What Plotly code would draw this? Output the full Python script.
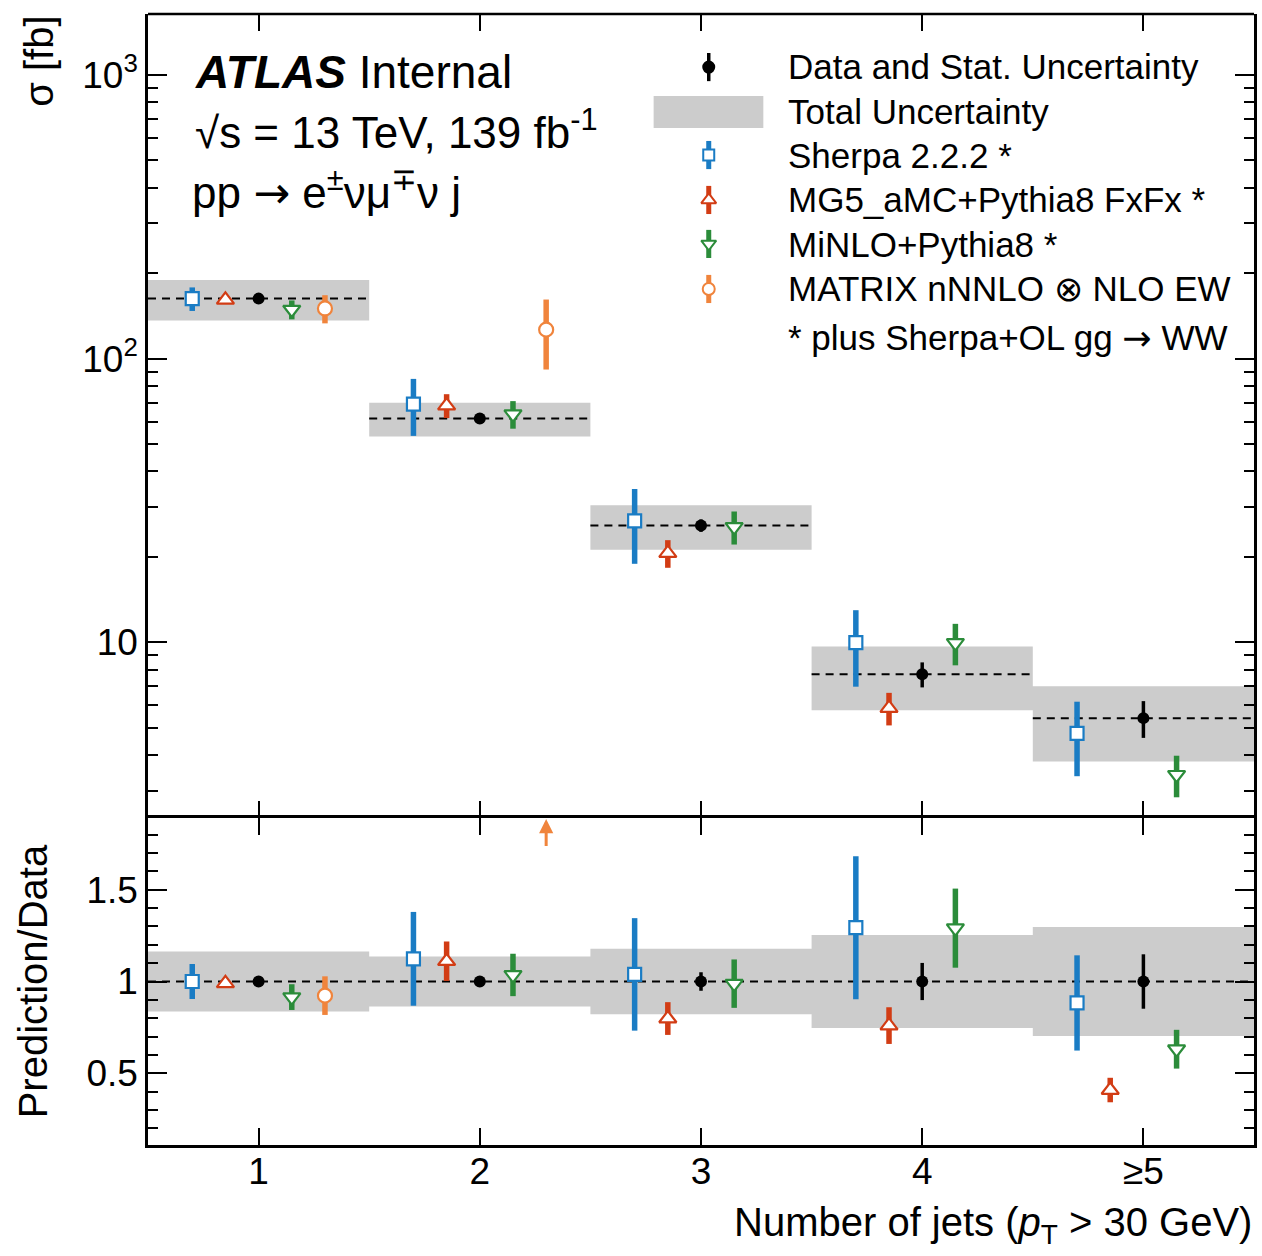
import plotly.graph_objects as go

# ---------------------------------------------------------------- data
njet_labels = ["1", "2", "3", "4", "≥5"]
njet_centers = [1, 2, 3, 4, 5]
bin_lo = [0.5, 1.5, 2.5, 3.5, 4.5]
bin_hi = [1.5, 2.5, 3.5, 4.5, 5.5]

# measured fiducial cross-section [fb]
data_xs = [162.7, 61.5, 25.8, 7.71, 5.40]
data_stat = [1.5, 0.9, 1.3, 0.78, 0.80]
data_total = [26.5, 8.4, 4.6, 1.95, 1.60]

# predictions [fb] and their uncertainties
sherpa_xs = [162.7, 69.1, 26.8, 9.97, 4.77]
sherpa_err = [15.5, 15.7, 7.9, 3.0, 1.40]
mg5_xs = [161.1, 68.3, 20.6, 5.86, 2.21]
mg5_err = [4.0, 6.6, 2.3, 0.77, 0.36]
minlo_xs = [148.9, 63.7, 25.5, 9.95, 3.41]
minlo_err = [11.4, 7.1, 3.4, 1.66, 0.57]
matrix_xs = [150.2, 126.5, None, None, None]
matrix_err = [17.1, 35.0, None, None, None]

# ---------------------------------------------------------------- style
FONT = "Liberation Sans, Arial, Helvetica, sans-serif"
ARROW = '<span style="font-family:DejaVu Sans">→</span>'
BAND = "#cccccc"
C_SHERPA = "#1a7cc4"
C_MG5 = "#d23c14"
C_MINLO = "#2b8c3a"
C_MATRIX = "#f0843c"

TOP_RANGE = (2.4, 1640.0)
RATIO_RANGE = (0.11, 1.89)
SPLIT = 0.2891

predictions = [
    ("Sherpa 2.2.2 *", sherpa_xs, sherpa_err, C_SHERPA, "square", -0.30, 13),
    ("MG5_aMC+Pythia8 FxFx *", mg5_xs, mg5_err, C_MG5, "triangle-up", -0.15, 15),
    ("MiNLO+Pythia8 *", minlo_xs, minlo_err, C_MINLO, "triangle-down", 0.15, 15),
    ("MATRIX nNNLO ⊗ NLO EW", matrix_xs, matrix_err, C_MATRIX, "circle", 0.30, 14),
]

fig = go.Figure()


def band_polygon(lo, hi, low, high):
    xs, ys = [], []
    for a, b, l, h in zip(lo, hi, low, high):
        xs += [a, b, b, a, a, None]
        ys += [l, l, h, h, l, None]
    return xs, ys


def open_marker(sym, size, col):
    return dict(symbol=sym, size=size, color="white", line=dict(color=col, width=2.2))


# ---------------------------------------------------------------- top panel
bx, by = band_polygon(bin_lo, bin_hi,
                      [d - e for d, e in zip(data_xs, data_total)],
                      [d + e for d, e in zip(data_xs, data_total)])
fig.add_trace(go.Scatter(x=bx, y=by, mode="lines", fill="toself", fillcolor=BAND,
                         line=dict(width=0, color=BAND), hoverinfo="skip",
                         showlegend=False, xaxis="x", yaxis="y"))

lx, ly = [], []
for a, b, d in zip(bin_lo, bin_hi, data_xs):
    lx += [a, b, None]
    ly += [d, d, None]
fig.add_trace(go.Scatter(x=lx, y=ly, mode="lines",
                         line=dict(color="black", width=2, dash="8px,6px"),
                         showlegend=False, xaxis="x", yaxis="y"))


def in_top(v):
    return v is not None and TOP_RANGE[0] <= v <= TOP_RANGE[1]


for name, xs_, err_, col, sym, off, size in predictions:
    yv = [v if in_top(v) else None for v in xs_]
    ev = [e if in_top(v) else None for v, e in zip(xs_, err_)]
    fig.add_trace(go.Scatter(
        x=[c + off for c in njet_centers], y=yv, mode="markers",
        marker=open_marker(sym, size, col),
        error_y=dict(type="data", array=ev, color=col, thickness=5.5, width=0),
        showlegend=False, xaxis="x", yaxis="y"))

fig.add_trace(go.Scatter(
    x=njet_centers, y=data_xs, mode="markers",
    marker=dict(symbol="circle", size=12, color="black"),
    error_y=dict(type="data", array=data_stat, color="black", thickness=3.5, width=0),
    showlegend=False, xaxis="x", yaxis="y"))

# ---------------------------------------------------------------- ratio panel
rel_tot = [e / d for d, e in zip(data_xs, data_total)]
rx, ry = [], []
for a, b, r in zip(bin_lo, bin_hi, rel_tot):
    rx += [a, b]
    ry += [1 + r, 1 + r]
for a, b, r in reversed(list(zip(bin_lo, bin_hi, rel_tot))):
    rx += [b, a]
    ry += [1 - r, 1 - r]
fig.add_trace(go.Scatter(x=rx, y=ry, mode="lines", fill="toself", fillcolor=BAND,
                         line=dict(width=0, color=BAND), hoverinfo="skip",
                         showlegend=False, xaxis="x2", yaxis="y2"))
fig.add_trace(go.Scatter(x=[bin_lo[0], bin_hi[-1]], y=[1, 1], mode="lines",
                         line=dict(color="black", width=2, dash="8px,6px"),
                         showlegend=False, xaxis="x2", yaxis="y2"))

arrows = []
for name, xs_, err_, col, sym, off, size in predictions:
    ratio, rerr = [], []
    for v, e, d, c in zip(xs_, err_, data_xs, njet_centers):
        if v is None:
            ratio.append(None)
            rerr.append(None)
            continue
        r = v / d
        if r > RATIO_RANGE[1]:
            arrows.append((c + off, col))
            ratio.append(None)
            rerr.append(None)
        else:
            ratio.append(r)
            rerr.append(e / d)
    fig.add_trace(go.Scatter(
        x=[c + off for c in njet_centers], y=ratio, mode="markers",
        marker=open_marker(sym, size, col),
        error_y=dict(type="data", array=rerr, color=col, thickness=5.5, width=0),
        showlegend=False, xaxis="x2", yaxis="y2"))

fig.add_trace(go.Scatter(
    x=njet_centers, y=[1.0] * len(data_xs), mode="markers",
    marker=dict(symbol="circle", size=12, color="black"),
    error_y=dict(type="data", array=[s / d for s, d in zip(data_stat, data_xs)],
                 color="black", thickness=3.5, width=0),
    showlegend=False, xaxis="x2", yaxis="y2"))

# points above the ratio range are marked with an upward arrow
annotations = []
for xa, col in arrows:
    annotations.append(dict(x=xa, y=RATIO_RANGE[1] - 0.005, ax=xa, ay=1.73,
                            xref="x2", yref="y2", axref="x2", ayref="y2",
                            showarrow=True, arrowhead=2, arrowsize=0.95,
                            arrowwidth=3, arrowcolor=col, text=""))

# ---------------------------------------------------------------- legend
leg_x = 0.507
leg_rows = [0.934, 0.8246, 0.7687, 0.714, 0.658]
leg_entries = [("black", "circle", 11, 3.5, "black")]
for name, xs_, err_, col, sym, off, size in predictions:
    leg_entries.append((col, sym, size - 2, 5, "white"))

text_rows_px = [67, 111, 155, 200, 244, 289, 338]
legend_texts = ["Data and Stat. Uncertainty", "Total Uncertainty"] + \
    [p[0] for p in predictions] + [f"* plus Sherpa+OL gg {ARROW} WW"]

for (col, sym, size, thick, fill), yy in zip(leg_entries, leg_rows):
    fig.add_trace(go.Scatter(
        x=[leg_x], y=[yy], mode="markers",
        marker=dict(symbol=sym, size=size, color=fill, line=dict(color=col, width=2)),
        error_y=dict(type="data", array=[0.0175], color=col, thickness=thick, width=0),
        showlegend=False, hoverinfo="skip", xaxis="x3", yaxis="y3"))

for txt, py in zip(legend_texts, text_rows_px):
    annotations.append(dict(text=txt, x=(788 - 148) / 1109, y=(1145 - py) / 1131,
                            xref="paper", yref="paper", xanchor="left", yanchor="middle",
                            showarrow=False, font=dict(family=FONT, size=35, color="black")))

shapes = [
    dict(type="rect", xref="paper", yref="paper",
         x0=(655 - 148) / 1109, x1=(765 - 148) / 1109,
         y0=(1145 - 128) / 1131, y1=(1145 - 96) / 1131,
         fillcolor=BAND, line=dict(width=0), layer="above"),
    # upper frame edge of the cross-section panel
    dict(type="line", xref="paper", yref="paper", x0=0, x1=1, y0=1, y1=1,
         line=dict(color="black", width=2.5), layer="above"),
]

# ---------------------------------------------------------------- labels
annotations += [
    dict(text="<b><i>ATLAS</i></b> Internal", x=(193 - 148) / 1109, y=(1145 - 72) / 1131,
         xref="paper", yref="paper", xanchor="left", yanchor="middle", showarrow=False,
         font=dict(family=FONT, size=46, color="black")),
    dict(text="√s = 13 TeV, 139 fb<sup>-1</sup>", x=(193 - 148) / 1109, y=(1145 - 130) / 1131,
         xref="paper", yref="paper", xanchor="left", yanchor="middle", showarrow=False,
         font=dict(family=FONT, size=44, color="black")),
    dict(text=f"pp {ARROW} e<sup>±</sup>νμ<sup>∓</sup>ν j", x=(190 - 148) / 1109,
         y=(1145 - 190) / 1131,
         xref="paper", yref="paper", xanchor="left", yanchor="middle", showarrow=False,
         font=dict(family=FONT, size=44, color="black")),
    dict(text="σ [fb]", x=(38 - 148) / 1109, y=(1145 - 14) / 1131, textangle=-90,
         xref="paper", yref="paper", xanchor="center", yanchor="top", showarrow=False,
         font=dict(family=FONT, size=40, color="black")),
    dict(text="Prediction/Data", x=(33 - 148) / 1109, y=(1145 - 981) / 1131, textangle=-90,
         xref="paper", yref="paper", xanchor="center", yanchor="middle", showarrow=False,
         font=dict(family=FONT, size=40, color="black")),
    dict(text="Number of jets (<i>p</i><sub>T</sub> > 30 GeV)", x=1.0, y=(1145 - 1225) / 1131,
         xref="paper", yref="paper", xanchor="right", yanchor="middle", showarrow=False,
         font=dict(family=FONT, size=40, color="black")),
]

# ---------------------------------------------------------------- axes
tick_font = dict(family=FONT, size=37, color="black")
common_x = dict(range=[0.5, 5.5], tickvals=njet_centers, ticks="inside", ticklen=17,
                tickwidth=2, tickcolor="black", linecolor="black",
                linewidth=2.5, mirror="ticks", showgrid=False, zeroline=False)

top_minor = [m * 10 ** k for k in range(0, 4) for m in range(2, 10)]
ratio_minor = [round(0.1 * i, 1) for i in range(1, 19) if i not in (5, 10, 15)]

fig.update_layout(
    width=1262, height=1256,
    margin=dict(l=148, r=5, t=14, b=111),
    paper_bgcolor="white", plot_bgcolor="white",
    font=dict(family=FONT, color="black"),
    showlegend=False,
    xaxis=dict(**common_x, showline=False, anchor="y", showticklabels=False, matches="x2"),
    yaxis=dict(type="log", domain=[SPLIT, 1], anchor="x",
               range=[0.380211, 3.214844],
               tickvals=[10, 100, 1000], ticktext=["10", "10<sup>2</sup>", "10<sup>3</sup>"],
               ticks="inside", ticklen=19, tickwidth=2, tickcolor="black",
               minor=dict(tickvals=top_minor, ticks="inside", ticklen=10, tickwidth=2,
                          tickcolor="black"),
               showline=True, linecolor="black", linewidth=2.5, mirror="ticks",
               showgrid=False, zeroline=False, tickfont=tick_font),
    xaxis2=dict(**common_x, showline=True, anchor="y2", ticktext=njet_labels,
                tickfont=tick_font, ticklabelstandoff=-8),
    yaxis2=dict(domain=[0, SPLIT], anchor="x2", range=list(RATIO_RANGE),
                tickvals=[0.5, 1, 1.5], ticktext=["0.5", "1", "1.5"],
                ticks="inside", ticklen=19, tickwidth=2, tickcolor="black",
                minor=dict(tickvals=ratio_minor, ticks="inside", ticklen=10, tickwidth=2,
                           tickcolor="black"),
                showline=True, linecolor="black", linewidth=2.5, mirror="ticks",
                showgrid=False, zeroline=False, tickfont=tick_font),
    xaxis3=dict(range=[0, 1], overlaying="x", anchor="y3", visible=False, showgrid=False),
    yaxis3=dict(range=[0, 1], overlaying="y", anchor="x3", visible=False, showgrid=False),
    annotations=annotations,
    shapes=shapes,
)

fig.write_html("out.html")
